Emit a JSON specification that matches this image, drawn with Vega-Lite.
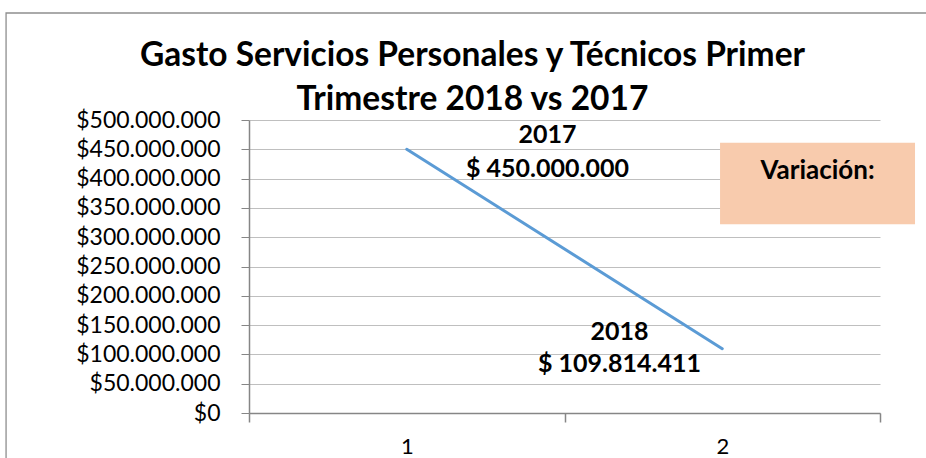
{
  "$schema": "https://vega.github.io/schema/vega-lite/v6.json",
  "width": 631,
  "height": 293,
  "autosize": {"type": "none"},
  "padding": {"left": 249, "top": 120, "right": 46, "bottom": 45},
  "background": "white",
  "config": {
    "view": {"stroke": null},
    "font": "Lato",
    "locale": {"number": {"decimal": ",", "thousands": ".", "grouping": [3], "currency": ["$", ""]}}
  },
  "title": {
    "text": ["Gasto Servicios Personales y Técnicos Primer", "Trimestre 2018 vs 2017"],
    "font": "Lato",
    "fontSize": 33.5,
    "fontWeight": "bold",
    "color": "#000000",
    "anchor": "middle",
    "frame": "group",
    "dx": -92,
    "lineHeight": 44,
    "offset": -105
  },
  "datasets": {
    "serie": [
      {"Periodo": 1, "Año": "2017", "Gasto": 450000000},
      {"Periodo": 2, "Año": "2018", "Gasto": 109814411}
    ],
    "etiquetas": [
      {"px": 1.446, "py": 475000000, "texto": "2017"},
      {"px": 1.446, "py": 416500000, "texto": "$ 450.000.000"},
      {"px": 1.674, "py": 138200000, "texto": "2018"},
      {"px": 1.674, "py": 83600000, "texto": "$ 109.814.411"}
    ],
    "caja": [
      {"x0": 1.993, "x1": 2.611, "y0": 322000000, "y1": 461300000, "px": 2.302, "py": 413000000, "texto": "Variación:"}
    ],
    "marco": [
      {"x0": -0.27, "x1": 3.2, "y0": -250000000, "y1": 682600000}
    ]
  },
  "layer": [
    {
      "data": {"name": "marco"},
      "mark": {"type": "rect", "fill": null, "stroke": "#8e8e8e", "strokeWidth": 1.3},
      "encoding": {
        "x": {
          "field": "x0",
          "type": "quantitative",
          "scale": {"domain": [0.5, 2.5], "nice": false, "zero": false},
          "axis": {
            "title": null,
            "values": [0.5, 1, 1.5, 2, 2.5],
            "tickCount": 5,
            "labelExpr": "datum.value == 1 ? '1' : (datum.value == 2 ? '2' : '')",
            "grid": false,
            "domainColor": "#868686",
            "domainWidth": 1.5,
            "tickColor": "#868686",
            "tickWidth": 1.5,
            "tickSize": 9,
            "tickOpacity": {"condition": {"test": "datum.value == 1 || datum.value == 2", "value": 0}, "value": 1},
            "labelFont": "Lato",
            "labelFontSize": 22,
            "labelColor": "#000000",
            "labelPadding": 14,
            "labelFlush": false,
            "labelOverlap": false
          }
        },
        "x2": {"field": "x1"},
        "y": {
          "field": "y0",
          "type": "quantitative",
          "scale": {"domain": [0, 500000000], "nice": false},
          "axis": {
            "title": null,
            "values": [0, 50000000, 100000000, 150000000, 200000000, 250000000, 300000000, 350000000, 400000000, 450000000, 500000000],
            "tickCount": 11,
            "format": "$,d",
            "grid": true,
            "gridColor": "#BFBFBF",
            "gridWidth": 1.2,
            "domainColor": "#868686",
            "domainWidth": 1.5,
            "tickColor": "#868686",
            "tickSize": 8,
            "labelFont": "Lato",
            "labelFontSize": 23,
            "labelColor": "#000000",
            "labelPadding": 21,
            "labelOverlap": false,
            "labelFlush": false
          }
        },
        "y2": {"field": "y1"}
      }
    },
    {
      "data": {"name": "serie"},
      "mark": {"type": "line", "color": "#5B9BD5", "strokeWidth": 3, "strokeCap": "round"},
      "encoding": {
        "x": {"field": "Periodo", "type": "quantitative", "title": null},
        "y": {"field": "Gasto", "type": "quantitative", "title": null}
      }
    },
    {
      "data": {"name": "etiquetas"},
      "mark": {"type": "text", "font": "Lato", "fontSize": 25, "fontWeight": "bold", "color": "#000000", "baseline": "middle", "align": "center"},
      "encoding": {
        "x": {"field": "px", "type": "quantitative", "title": null},
        "y": {"field": "py", "type": "quantitative", "title": null},
        "text": {"field": "texto"}
      }
    },
    {
      "data": {"name": "caja"},
      "mark": {"type": "rect", "fill": "#F8CBAD", "stroke": null},
      "encoding": {
        "x": {"field": "x0", "type": "quantitative", "title": null},
        "x2": {"field": "x1"},
        "y": {"field": "y0", "type": "quantitative", "title": null},
        "y2": {"field": "y1"}
      }
    },
    {
      "data": {"name": "caja"},
      "mark": {"type": "text", "font": "Lato", "fontSize": 26, "fontWeight": "bold", "color": "#000000", "baseline": "middle", "align": "center"},
      "encoding": {
        "x": {"field": "px", "type": "quantitative", "title": null},
        "y": {"field": "py", "type": "quantitative", "title": null},
        "text": {"field": "texto"}
      }
    }
  ]
}
